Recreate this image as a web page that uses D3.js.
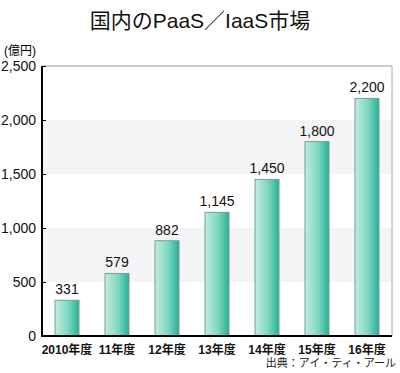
<!DOCTYPE html>
<html>
<head>
<meta charset="utf-8">
<script src="https://cdn.jsdelivr.net/npm/d3@7"></script>
<style>
  body { margin: 0; background: #fff; }
  text { font-family: "Liberation Sans", Arial, "Noto Sans CJK JP", sans-serif; }
</style>
</head>
<body>
<div id="chart"></div>
<script>
// data
var years = ["2010年度", "11年度", "12年度", "13年度", "14年度", "15年度", "16年度"];
var values = [331, 579, 882, 1145, 1450, 1800, 2200];
var yTicks = [0, 500, 1000, 1500, 2000, 2500];
var bands = [[500, 1000], [1500, 2000]];

var width = 400, height = 373;
var margin = {top: 66, right: 8, bottom: 37, left: 42};
var innerW = width - margin.left - margin.right,
    innerH = height - margin.top - margin.bottom;

var svg = d3.select("#chart").append("svg")
    .attr("width", width)
    .attr("height", height);

var defs = svg.append("defs");
var grad = defs.append("linearGradient").attr("id", "barGrad")
    .attr("x1", "0%").attr("x2", "100%").attr("y1", "0%").attr("y2", "0%");
grad.append("stop").attr("offset", "0%").attr("stop-color", "#c2ebe0");
grad.append("stop").attr("offset", "55%").attr("stop-color", "#7fd6c0");
grad.append("stop").attr("offset", "100%").attr("stop-color", "#1fb395");

// title
svg.append("text")
    .attr("x", width / 2).attr("y", 28)
    .attr("text-anchor", "middle")
    .style("font-size", "21px")
    .style("fill", "#111")
    .text("国内のPaaS／IaaS市場");

svg.append("text")
    .attr("x", 4).attr("y", 55)
    .style("font-size", "12px")
    .text("(億円)");

var g = svg.append("g").attr("transform", "translate(" + margin.left + "," + margin.top + ")");

var x = d3.scaleBand().domain(years).range([0, innerW]).paddingInner(0.52).paddingOuter(0.26);
var y = d3.scaleLinear().domain([0, 2500]).range([innerH, 0]);

// shaded bands
g.selectAll(".band").data(bands).enter().append("rect")
    .attr("x", 1).attr("width", innerW - 1)
    .attr("y", function(d) { return y(d[1]); })
    .attr("height", function(d) { return y(d[0]) - y(d[1]); })
    .style("fill", "#f4f4f6");

// top line and right border
g.append("line").attr("x1", 0).attr("x2", innerW).attr("y1", y(2500)).attr("y2", y(2500))
    .style("stroke", "#999").style("stroke-width", 1);
g.append("line").attr("x1", innerW).attr("x2", innerW).attr("y1", y(2500)).attr("y2", y(0))
    .style("stroke", "#aaa").style("stroke-width", 1);

// bars
g.selectAll(".bar").data(values).enter().append("rect")
    .attr("x", function(d, i) { return x(years[i]); })
    .attr("y", function(d) { return y(d); })
    .attr("width", x.bandwidth())
    .attr("height", function(d) { return innerH - y(d); })
    .style("fill", "url(#barGrad)")
    .style("stroke", "#7c9a92")
    .style("stroke-width", 1);

// value labels
g.selectAll(".val").data(values).enter().append("text")
    .attr("x", function(d, i) { return x(years[i]) + x.bandwidth() / 2; })
    .attr("y", function(d) { return y(d) - 6; })
    .attr("text-anchor", "middle")
    .style("font-size", "14px")
    .style("fill", "#111")
    .text(function(d) { return d3.format(",")(d); });

// y axis
var yAxis = g.append("g")
    .call(d3.axisLeft(y).tickValues(yTicks).tickFormat(d3.format(",")).tickSize(-4).tickPadding(6));
yAxis.select(".domain").style("stroke", "#000").style("stroke-width", 2).attr("d", "M0," + y(2500) + "V" + innerH);
yAxis.selectAll("text").style("font-size", "14px").style("fill", "#111")
    .style("font-family", "Liberation Sans, Arial, sans-serif");

// x axis
var xAxis = g.append("g").attr("transform", "translate(0," + innerH + ")")
    .call(d3.axisBottom(x).tickSize(0).tickPadding(9));
xAxis.select(".domain").style("stroke", "#000").style("stroke-width", 2).attr("d", "M-1,0H" + innerW);
xAxis.selectAll("text").style("font-size", "12px").style("font-weight", "bold").style("fill", "#111")
    .style("font-family", "Liberation Sans, Arial, Noto Sans CJK JP, sans-serif");

// source
svg.append("text")
    .attr("x", 396).attr("y", 367)
    .attr("text-anchor", "end")
    .style("font-size", "11px")
    .style("fill", "#222")
    .text("出典：アイ・ティ・アール");
</script>
</body>
</html>
